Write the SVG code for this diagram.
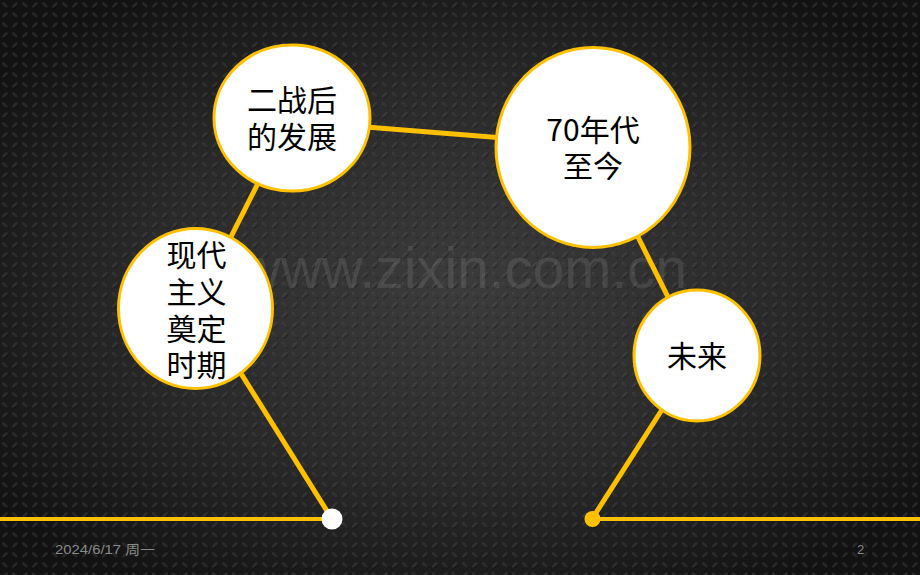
<svg xmlns="http://www.w3.org/2000/svg" width="920" height="575" viewBox="0 0 920 575">
<defs>
<radialGradient id="bg" cx="0.5" cy="0.5" r="0.62">
<stop offset="0" stop-color="#3c3c3c"/>
<stop offset="0.55" stop-color="#2a2a2a"/>
<stop offset="1" stop-color="#121212"/>
</radialGradient>
<pattern id="plate" width="20" height="20" patternUnits="userSpaceOnUse">
<g fill="#000" fill-opacity="0.4">
<ellipse cx="5.6" cy="5.6" rx="3.6" ry="1.5" transform="rotate(45 5.6 5.6)"/>
<ellipse cx="15.6" cy="15.6" rx="3.6" ry="1.5" transform="rotate(45 15.6 15.6)"/>
<ellipse cx="15.6" cy="5.6" rx="3.6" ry="1.5" transform="rotate(-45 15.6 5.6)"/>
<ellipse cx="5.6" cy="15.6" rx="3.6" ry="1.5" transform="rotate(-45 5.6 15.6)"/>
</g>
<g fill="#fff" fill-opacity="0.11">
<ellipse cx="5" cy="5" rx="3.6" ry="1.5" transform="rotate(45 5 5)"/>
<ellipse cx="15" cy="15" rx="3.6" ry="1.5" transform="rotate(45 15 15)"/>
<ellipse cx="15" cy="5" rx="3.6" ry="1.5" transform="rotate(-45 15 5)"/>
<ellipse cx="5" cy="15" rx="3.6" ry="1.5" transform="rotate(-45 5 15)"/>
</g>
</pattern>
</defs>
<style>
.conn{stroke:#FFC000;stroke-width:5;stroke-linecap:round;fill:none}
.hline{stroke:#FFC000;stroke-width:4;fill:none}
.node ellipse{fill:#fff;stroke:#FFC000;stroke-width:3}
.lbl{font-family:"Noto Sans CJK SC","Liberation Sans",sans-serif;font-size:30px;fill:#000;text-anchor:middle}
.foot{font-family:"Liberation Sans","Noto Sans CJK SC",sans-serif;font-size:13px;fill:#8a8a8a}
.wm{font-family:"Liberation Sans",Arial,sans-serif;font-size:58px;fill:#d8d8d8;fill-opacity:0.12}
</style>
<rect width="920" height="575" fill="url(#bg)"/>
<rect width="920" height="575" fill="url(#plate)"/>
<text class="wm" x="240" y="288" textLength="447" lengthAdjust="spacingAndGlyphs">www.zixin.com.cn</text>
<g id="connectors">
<line class="hline" x1="0" y1="519" x2="332" y2="519"/>
<line class="hline" x1="592" y1="519" x2="920" y2="519"/>
<line class="conn" x1="332" y1="519" x2="195" y2="300"/>
<line class="conn" x1="195" y1="308" x2="291" y2="118"/>
<line class="conn" x1="291" y1="121" x2="593" y2="145"/>
<line class="conn" x1="593" y1="147" x2="697" y2="355"/>
<line class="conn" x1="697" y1="355" x2="592" y2="519"/>
<circle cx="332" cy="519" r="10.5" fill="#fff"/>
<circle cx="592.5" cy="519" r="8" fill="#FFC000"/>
</g>
<g id="node-postwar" class="node">
<ellipse cx="292" cy="118" rx="78" ry="73"/>
<text class="lbl" x="292" y="111">二战后</text>
<text class="lbl" x="292" y="148">的发展</text>
</g>
<g id="node-modern" class="node">
<ellipse cx="195.5" cy="308.5" rx="77" ry="80"/>
<text class="lbl" x="196.5" y="266">现代</text>
<text class="lbl" x="196.5" y="303">主义</text>
<text class="lbl" x="196.5" y="339.5">奠定</text>
<text class="lbl" x="196.5" y="376">时期</text>
</g>
<g id="node-70s" class="node">
<ellipse cx="593" cy="147.5" rx="97" ry="100"/>
<text class="lbl" x="593" y="140.5">70年代</text>
<text class="lbl" x="593" y="177">至今</text>
</g>
<g id="node-future" class="node">
<ellipse cx="697" cy="355.5" rx="63" ry="65.5"/>
<text class="lbl" x="697" y="367">未来</text>
</g>
<text class="foot" x="55" y="554" textLength="100" lengthAdjust="spacingAndGlyphs">2024/6/17 周一</text>
<text class="foot" x="857" y="554">2</text>
</svg>
